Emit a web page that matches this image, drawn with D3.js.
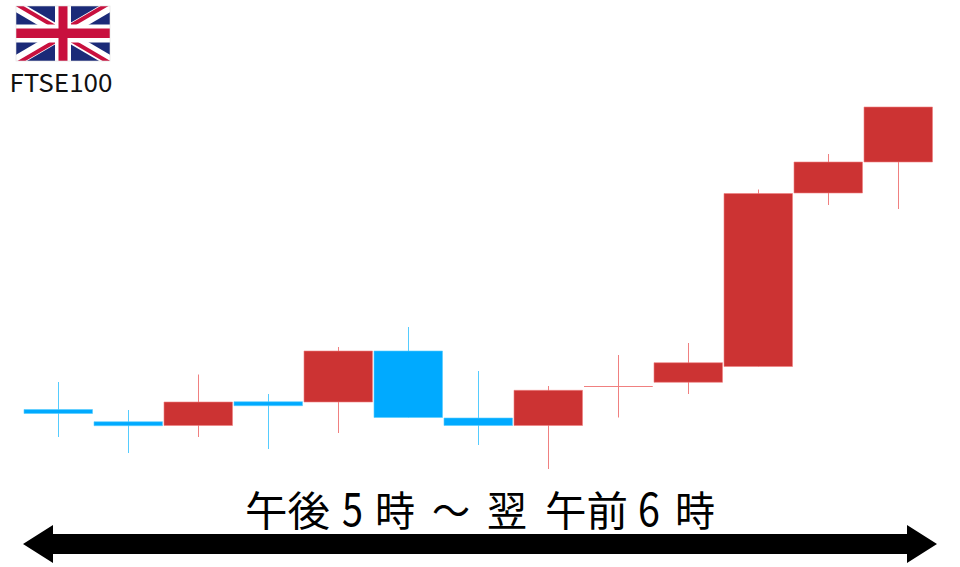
<!DOCTYPE html>
<html><head><meta charset="utf-8">
<script src="https://cdnjs.cloudflare.com/ajax/libs/d3/7.8.5/d3.min.js"></script>
<style>html,body{margin:0;padding:0;background:#fff}svg{display:block}</style>
</head><body>
<svg id="c" width="960" height="567" viewBox="0 0 960 567"></svg>
<script>
const hours  = ["17","18","19","20","21","22","23","0","1","2","3","4","5"];
const opens  = [70.5, 58.3, 54.5, 78.3, 78, 129, 62, 54.5, 93.5, 97.7, 113.5, 287, 318];
const closes = [66.5, 54.3, 78, 74.3, 129, 62.5, 54.5, 89.7, 93.5, 117.3, 286.5, 318, 373];
const highs  = [98, 70, 105.5, 86, 133, 153, 109, 94, 125, 137, 290.5, 326, 373];
const lows   = [43, 27, 43, 31, 47, 62.5, 35, 11, 62.5, 86, 113.5, 275, 271];
const title = "FTSE100";
const captionParts = ["午後", "5", "時", "～", "翌", "午前", "6", "時"];

const svg = d3.select("#c");
const x = d3.scaleBand().domain(hours).range([23, 933]);
const y = d3.scaleLinear().domain([0, 480]).range([480, 0]);
const cx = h => x(h) + x.bandwidth() / 2 + 0.5;
const RED = "#cc3333", BLUE = "#00aaff", REDW = "#f08080", BLUEW = "#55ccff";

const rows = hours.map((h, i) => ({h, o: opens[i], c: closes[i], hi: highs[i], lo: lows[i]}));
const isUp = d => d.c >= d.o;

svg.append("g").selectAll("line").data(rows).join("line")
  .attr("x1", d => cx(d.h)).attr("x2", d => cx(d.h))
  .attr("y1", d => y(d.hi)).attr("y2", d => y(d.lo))
  .attr("stroke", d => isUp(d) ? REDW : BLUEW).attr("stroke-width", 1);

svg.append("g").selectAll("path").data(rows).join("path")
  .attr("d", d => {
    const l = x(d.h) + 1, r = x(d.h) + x.bandwidth() - 0.5;
    const t = y(Math.max(d.o, d.c)), b = y(Math.min(d.o, d.c));
    return `M${l},${t}L${r},${t}L${r},${b}L${l},${b}Z`;
  })
  .attr("fill", d => isUp(d) ? RED : BLUE)
  .attr("stroke", d => isUp(d) ? REDW : BLUEW)
  .attr("stroke-width", d => d.o === d.c ? 1 : 0.6);

// Union Jack
const f = svg.append("g").attr("transform", "translate(16,6)");
const W = 94, H = 55;
f.append("clipPath").attr("id", "fc").append("rect").attr("width", W).attr("height", H);
const g = f.append("g").attr("clip-path", "url(#fc)");
g.append("rect").attr("width", W).attr("height", H).attr("fill", "#1b2a78");
[[0,0,W,H],[W,0,0,H]].forEach(l => g.append("line")
  .attr("x1", l[0]).attr("y1", l[1]).attr("x2", l[2]).attr("y2", l[3])
  .attr("stroke", "#fff").attr("stroke-width", 11));
[[0,0,W/2,H/2,0,-2],[W,H,W/2,H/2,0,2],[W,0,W/2,H/2,-2,-2],[0,H,W/2,H/2,2,2]].forEach(l => g.append("line")
  .attr("x1", l[0]+l[4]).attr("y1", l[1]+l[5]).attr("x2", l[2]+l[4]).attr("y2", l[3]+l[5])
  .attr("stroke", "#c8103e").attr("stroke-width", 4));
g.append("rect").attr("x", W/2-8).attr("width", 16).attr("height", H).attr("fill", "#fff");
g.append("rect").attr("y", H/2-9).attr("width", W).attr("height", 18).attr("fill", "#fff");
g.append("rect").attr("x", W/2-4.5).attr("width", 9).attr("height", H).attr("fill", "#c8103e");
g.append("rect").attr("y", H/2-5).attr("width", W).attr("height", 9.5).attr("fill", "#c8103e");
f.append("rect").attr("width", W).attr("height", H).attr("fill", "none").attr("stroke", "#ddd").attr("stroke-width", 0.6);

svg.append("text").attr("x", 61).attr("y", 92).attr("text-anchor", "middle")
  .attr("font-family", "'Noto Sans CJK JP','Noto Sans',sans-serif").attr("font-size", 24.5)
  .attr("textLength", 103).attr("lengthAdjust", "spacingAndGlyphs").attr("fill", "#111").text(title);

// Arrow
svg.append("path")
  .attr("d", "M23,544 L53,525 L53,534 L907,534 L907,525 L937,544 L907,563 L907,554 L53,554 L53,563 Z")
  .attr("fill", "#000");

const captionX = [245, 342, 375, 432, 487, 545, 638, 675];
const captionW = [85, 21, 40, 38, 40, 83, 22, 40];
svg.append("g").selectAll("text").data(captionParts).join("text")
  .attr("x", (d, i) => captionX[i]).attr("y", 526)
  .attr("font-family", "'Noto Sans CJK JP',sans-serif")
  .attr("font-size", d => /\d/.test(d) ? 46 : 41)
  .attr("textLength", (d, i) => captionW[i]).attr("lengthAdjust", "spacingAndGlyphs")
  .attr("fill", "#000").text(d => d);
</script>
</body></html>
